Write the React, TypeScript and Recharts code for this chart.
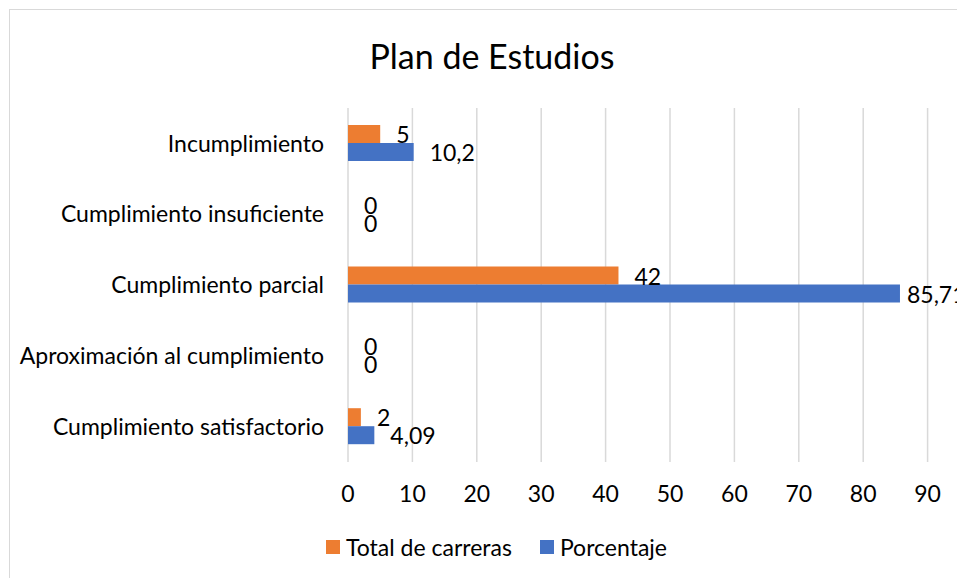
import { BarChart, Bar, XAxis, YAxis, CartesianGrid, LabelList } from 'recharts'

const categories = [
  'Incumplimiento',
  'Cumplimiento insuficiente',
  'Cumplimiento parcial',
  'Aproximación al cumplimiento',
  'Cumplimiento satisfactorio',
]
const totalCarreras = [5, 0, 42, 0, 2]
const porcentaje = [10.2, 0, 85.71, 0, 4.09]
// axis runs to 100 but that end falls outside the visible area
const xTicks = [0, 10, 20, 30, 40, 50, 60, 70, 80, 90]

const series = [
  { key: 'total', name: 'Total de carreras', color: '#ED7D31', values: totalCarreras },
  { key: 'pct', name: 'Porcentaje', color: '#4472C4', values: porcentaje },
]

const data = categories.map((name, i) => ({
  name,
  total: totalCarreras[i],
  pct: porcentaje[i],
}))

const FONT = 'Lato, "Open Sans", sans-serif'

const fmt = (v: number) => String(v).replace('.', ',')

function ValueLabel(props: any) {
  const { x, y, width, height, value } = props
  const w = Math.max(0, Number(width) || 0)
  // Excel nudged the big label closer to the bar so it fits
  const gap = value > 80 ? 7 : 16
  return (
    <text
      x={x + w + gap}
      y={y + height / 2}
      dominantBaseline="central"
      fontFamily={FONT}
      fontSize={23}
      fill="#000"
    >
      {fmt(value)}
    </text>
  )
}

export default function App() {
  return (
    <div
      style={{
        position: 'fixed',
        left: 0,
        top: 0,
        width: 957,
        height: 578,
        overflow: 'hidden',
        background: '#fff',
        fontFamily: FONT,
      }}
    >
      <div
        style={{
          position: 'absolute',
          left: 9,
          top: 9,
          width: 1100,
          height: 700,
          border: '1px solid #D9D9D9',
          boxSizing: 'border-box',
        }}
      />
      <div
        style={{
          position: 'absolute',
          left: 292,
          width: 400,
          top: 35,
          textAlign: 'center',
          fontSize: 34,
          lineHeight: '42px',
          color: '#000',
        }}
      >
        Plan de Estudios
      </div>
      <div style={{ position: 'absolute', left: 0, top: 0 }}>
        <BarChart
          width={1000}
          height={578}
          data={data}
          layout="vertical"
          margin={{ top: 108, right: 8, bottom: 86, left: 0 }}
          barSize={18}
          barGap={0}
        >
          <CartesianGrid horizontal={false} stroke="#D9D9D9" strokeWidth={1.5} />
          <XAxis
            type="number"
            domain={[0, 100]}
            ticks={xTicks}
            interval={0}
            height={30}
            axisLine={false}
            tickLine={false}
            tickMargin={18}
            tick={{ fontFamily: FONT, fontSize: 23, fill: '#000' }}
          />
          <YAxis
            type="category"
            dataKey="name"
            width={348}
            axisLine={false}
            tickLine={false}
            tickMargin={18}
            interval={0}
            tick={{ fontFamily: FONT, fontSize: 23, fill: '#000' }}
          />
          {series.map((s) => (
            <Bar
              key={s.key}
              dataKey={s.key}
              name={s.name}
              fill={s.color}
              minPointSize={0.01}
              isAnimationActive={false}
            >
              <LabelList dataKey={s.key} content={ValueLabel} />
            </Bar>
          ))}
        </BarChart>
      </div>
      <div
        style={{
          position: 'absolute',
          left: 326,
          top: 532,
          display: 'flex',
          alignItems: 'center',
          fontSize: 23,
          lineHeight: '30px',
          color: '#000',
        }}
      >
        {series.map((s, i) => (
          <div key={s.key} style={{ display: 'flex', alignItems: 'center', marginRight: i === 0 ? 28 : 0 }}>
            <span style={{ width: 14, height: 14, background: s.color, marginRight: 6, display: 'inline-block' }} />
            <span>{s.name}</span>
          </div>
        ))}
      </div>
    </div>
  )
}
